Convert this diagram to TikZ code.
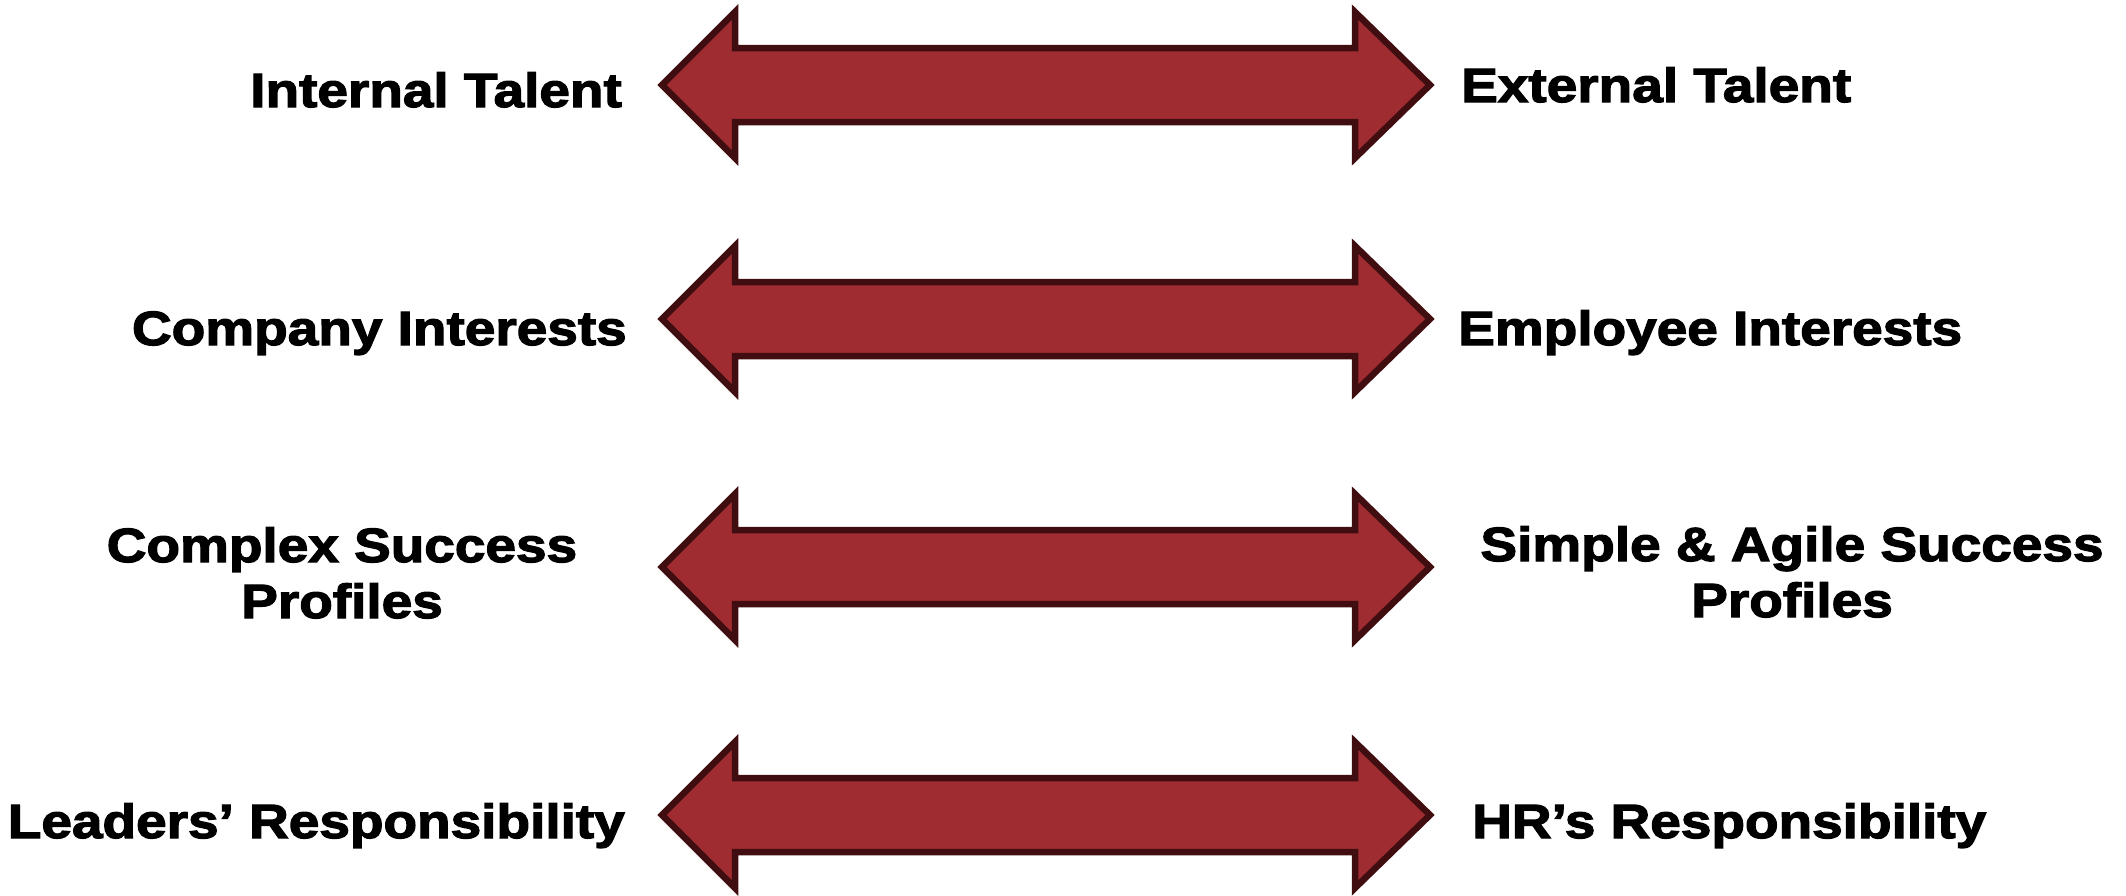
\documentclass[tikz,border=0pt]{standalone}
\usepackage{fontspec}
\newfontfamily\lab{Liberation Sans Bold}[FakeStretch=1.145,FakeBold=2.6]
\definecolor{arrowfill}{HTML}{9E2C30}
\definecolor{arrowline}{HTML}{400D10}
\tikzset{
  dblarrow/.style={fill=arrowfill,draw=arrowline,line width=6.5pt,line join=miter},
  lab/.style={inner sep=0pt,font=\lab\fontsize{48}{56}\selectfont,text=black}
}
\newcommand{\myarrow}[2]{%
  \draw[dblarrow] (662,#1) coordinate (#2L) -- (735,#1-73) -- (735,#1-37) -- (1355,#1-37) -- (1355,#1-73)
    -- (1430,#1) coordinate (#2R) -- (1355,#1+73) -- (1355,#1+37) -- (735,#1+37) -- (735,#1+73) -- cycle;}
\begin{document}
\begin{tikzpicture}[x=1pt,y=-1pt]
\useasboundingbox (0,0) rectangle (2126,895);
\myarrow{85}{a}
\myarrow{319}{b}
\myarrow{567}{c}
\myarrow{815}{d}
\node[lab,anchor=base east] (l1) at (622,107) {Internal Talent};
\node[lab,anchor=base west] (r1) at (1461,102) {External Talent};
\node[lab,anchor=base east] (l2) at (627,345) {Company Interests};
\node[lab,anchor=base west] (r2) at (1458,345) {Employee Interests};
\node[lab,anchor=base,align=center] (l3) at (342,618) {Complex Success\\Profiles};
\node[lab,anchor=base,align=center] (r3) at (1792,617) {Simple \& Agile Success\\Profiles};
\node[lab,anchor=base east] (l4) at (625,838) {Leaders’ Responsibility};
\node[lab,anchor=base west] (r4) at (1472,838) {HR’s Responsibility};
\end{tikzpicture}
\end{document}
